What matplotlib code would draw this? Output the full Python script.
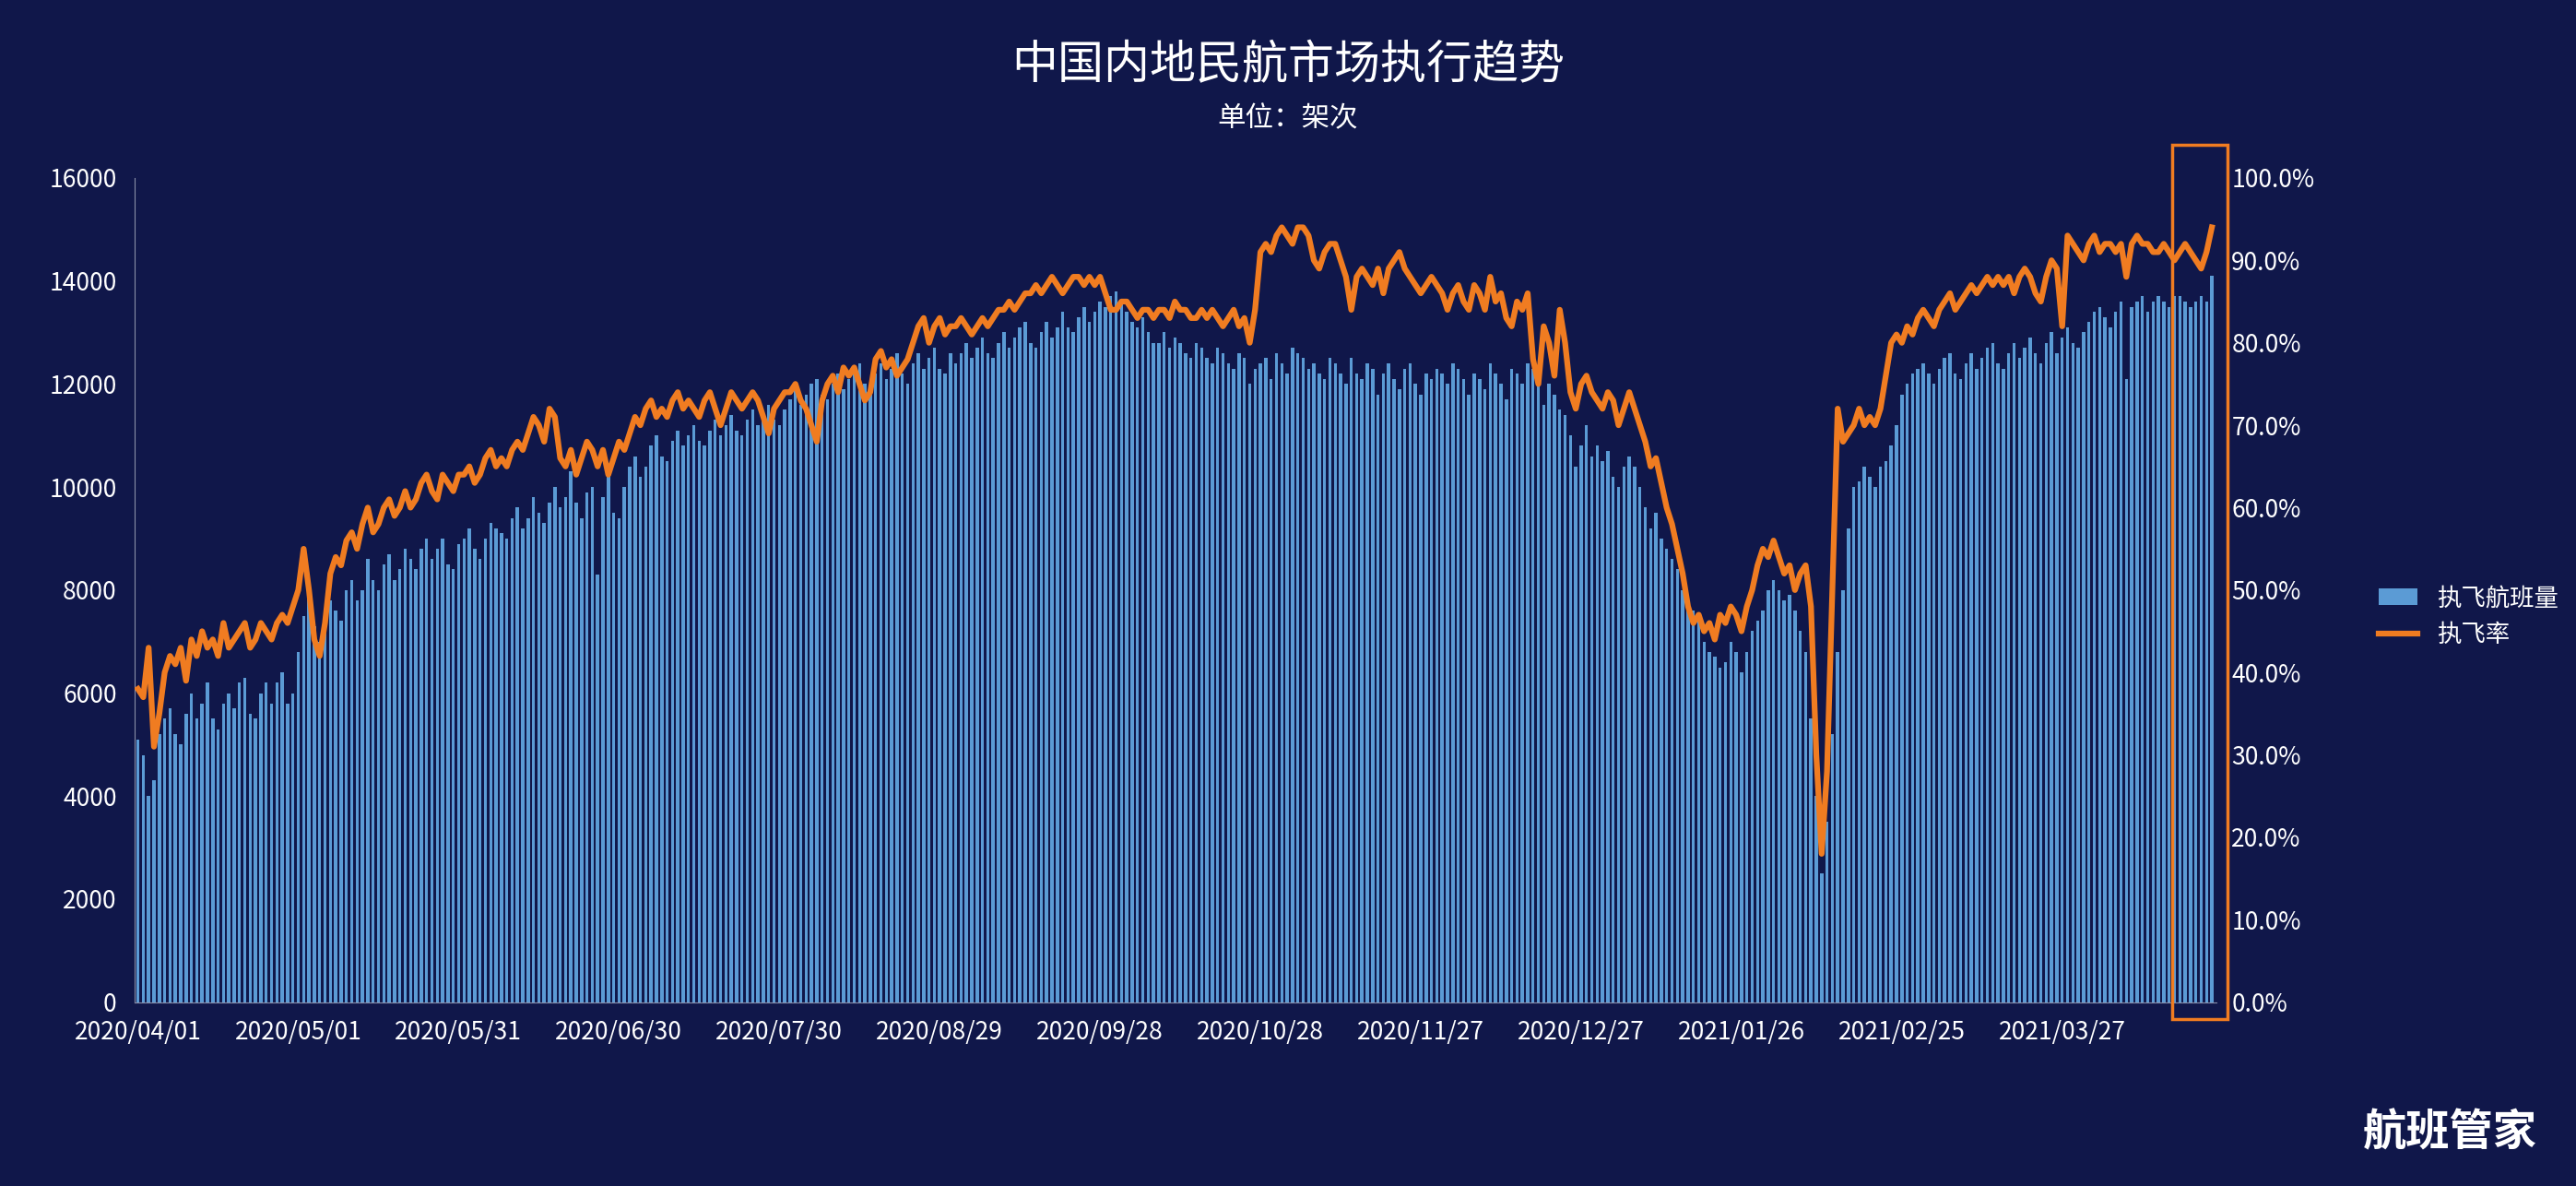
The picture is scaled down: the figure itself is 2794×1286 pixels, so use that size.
import numpy as np
import pandas as pd
import matplotlib.pyplot as plt
from matplotlib.patches import Rectangle

plt.rcParams['font.family'] = ['Noto Sans CJK SC', 'DejaVu Sans']

# daily executed flights (hundreds of flights), 2020/04/01 onward
flights_h = [
    # Apr
    51, 48, 40, 43, 52, 55, 57, 52, 50, 56, 60, 55, 58, 62, 55, 53, 58, 60, 57, 62, 63,
    56, 55, 60, 62, 58, 62, 64, 58, 60,
    # May
    68, 75, 80, 73, 70, 72, 78, 76, 74, 80, 82, 78, 80, 86, 82, 80, 85, 87, 82, 84, 88,
    86, 84, 88, 90, 86, 88, 90, 85, 84, 89,
    # Jun
    90, 92, 88, 86, 90, 93, 92, 91, 90, 94, 96, 92, 94, 98, 95, 93, 97, 100, 96, 98, 103,
    97, 94, 99, 100, 83, 98, 102, 95, 94,
    # Jul
    100, 104, 106, 102, 104, 108, 110, 106, 105, 109, 111, 108, 110, 112, 109, 108, 111,
    113, 110, 112, 114, 111, 110, 113, 115, 112, 114, 116, 113, 112, 115,
    # Aug
    117, 119, 116, 118, 120, 121, 118, 117, 120, 122, 119, 121, 122, 124, 120, 118, 122,
    124, 121, 123, 126, 122, 120, 124, 126, 123, 125, 127, 123, 122, 126,
    # Sep
    124, 126, 128, 125, 127, 129, 126, 125, 128, 130, 127, 129, 131, 132, 128, 127, 130,
    132, 129, 131, 134, 131, 130, 133, 135, 132, 134, 136, 135, 137,
    # Oct
    138, 136, 134, 132, 131, 133, 130, 128, 128, 130, 127, 129, 128, 126, 125, 128, 127,
    125, 124, 127, 126, 124, 123, 126, 125, 120, 123, 124, 125, 121, 126,
    # Nov
    124, 122, 127, 126, 125, 123, 124, 122, 121, 125, 124, 122, 120, 125, 122, 121, 124,
    123, 118, 122, 124, 121, 119, 123, 124, 120, 118, 122, 121, 123,
    # Dec
    122, 120, 124, 123, 121, 118, 122, 121, 119, 124, 122, 120, 117, 123, 122, 120, 124,
    123, 121, 116, 120, 118, 115, 114, 110, 104, 108, 112, 106, 108, 105,
    # Jan
    107, 102, 100, 104, 106, 104, 100, 96, 92, 95, 90, 88, 86, 84, 80, 78, 76, 74, 70,
    68, 67, 65, 66, 70, 68, 64, 68, 72, 74, 76, 80,
    # Feb
    82, 80, 78, 79, 76, 72, 68, 55, 40, 25, 35, 52, 68, 80, 92, 100, 101, 104, 102, 100,
    104, 105, 108, 112, 118, 120, 122, 123,
    # Mar
    124, 122, 120, 123, 125, 126, 122, 121, 124, 126, 123, 125, 127, 128, 124, 123, 126,
    128, 125, 127, 129, 126, 124, 128, 130, 126, 129, 131, 128, 127, 130,
    # Apr
    132, 134, 135, 133, 131, 134, 136, 121, 135, 136, 137, 134, 136, 137, 136, 135, 137,
    137, 136, 135, 136, 137, 136, 141,
]

# daily execution rate (%)
rate = [
    # Apr
    38, 37, 43, 31, 35, 40, 42, 41, 43, 39, 44, 42, 45, 43, 44, 42, 46, 43, 44, 45, 46,
    43, 44, 46, 45, 44, 46, 47, 46, 48,
    # May
    50, 55, 50, 44, 42, 46, 52, 54, 53, 56, 57, 55, 58, 60, 57, 58, 60, 61, 59, 60, 62,
    60, 61, 63, 64, 62, 61, 64, 63, 62, 64,
    # Jun
    64, 65, 63, 64, 66, 67, 65, 66, 65, 67, 68, 67, 69, 71, 70, 68, 72, 71, 66, 65, 67,
    64, 66, 68, 67, 65, 67, 64, 66, 68,
    # Jul
    67, 69, 71, 70, 72, 73, 71, 72, 71, 73, 74, 72, 73, 72, 71, 73, 74, 72, 70, 72, 74,
    73, 72, 73, 74, 73, 71, 69, 72, 73, 74,
    # Aug
    74, 75, 73, 72, 70, 68, 73, 75, 76, 74, 77, 76, 77, 75, 73, 74, 78, 79, 77, 78, 76,
    77, 78, 80, 82, 83, 80, 82, 83, 81, 82,
    # Sep
    82, 83, 82, 81, 82, 83, 82, 83, 84, 84, 85, 84, 85, 86, 86, 87, 86, 87, 88, 87, 86,
    87, 88, 88, 87, 88, 87, 88, 86, 84,
    # Oct
    84, 85, 85, 84, 83, 84, 84, 83, 84, 84, 83, 85, 84, 84, 83, 83, 84, 83, 84, 83, 82,
    83, 84, 82, 83, 80, 84, 91, 92, 91, 93,
    # Nov
    94, 93, 92, 94, 94, 93, 90, 89, 91, 92, 92, 90, 88, 84, 88, 89, 88, 87, 89, 86, 89,
    90, 91, 89, 88, 87, 86, 87, 88, 87,
    # Dec
    86, 84, 86, 87, 85, 84, 87, 86, 84, 88, 85, 86, 83, 82, 85, 84, 86, 78, 75, 82, 80,
    76, 84, 80, 74, 72, 75, 76, 74, 73, 72,
    # Jan
    74, 73, 70, 72, 74, 72, 70, 68, 65, 66, 63, 60, 58, 55, 52, 48, 46, 47, 45, 46, 44,
    47, 46, 48, 47, 45, 48, 50, 53, 55, 54,
    # Feb
    56, 54, 52, 53, 50, 52, 53, 48, 30, 18, 28, 50, 72, 68, 69, 70, 72, 70, 71, 70, 72,
    76, 80, 81, 80, 82, 81, 83,
    # Mar
    84, 83, 82, 84, 85, 86, 84, 85, 86, 87, 86, 87, 88, 87, 88, 87, 88, 86, 88, 89, 88,
    86, 85, 88, 90, 89, 82, 93, 92, 91, 90,
    # Apr
    92, 93, 91, 92, 92, 91, 92, 88, 92, 93, 92, 92, 91, 91, 92, 91, 90, 91, 92, 91, 90,
    89, 91, 94,
]

flights = np.array(flights_h) * 100
n = min(len(flights), len(rate))
flights = flights[:n]
rate = np.array(rate[:n])
dates = pd.date_range('2020-04-01', periods=n)
x = np.arange(n)

bg = '#10174a'
fig = plt.figure(figsize=(27.94, 12.86), dpi=100, facecolor=bg)
ax = fig.add_axes([0.0523, 0.155, 0.808, 0.695], facecolor='none')
ax.bar(x, flights, width=0.6, color='#5b9bd5', label='执飞航班量')
ax.set_xlim(-0.6, n - 0.2)
ax.set_ylim(0, 16000)
ax.set_yticks(range(0, 16001, 2000))
tick_idx = list(range(0, 361, 30))
ax.set_xticks(tick_idx)
ax.set_xticklabels([dates[i].strftime('%Y/%m/%d') for i in tick_idx])
ax.tick_params(colors='white', labelsize=19, length=0)
ax.tick_params(axis='x', pad=14)
ax.tick_params(axis='y', pad=14)
for s in ['top', 'right']:
    ax.spines[s].set_visible(False)
for s in ['left', 'bottom']:
    ax.spines[s].set_color('#8a8fa8')

ax2 = ax.twinx()
ax2.plot(x, rate, color='#f07c21', lw=4.5, label='执飞率')
ax2.set_ylim(0, 100)
ax2.set_yticks(range(0, 101, 10))
ax2.set_yticklabels([f'{v:.1f}%' for v in range(0, 101, 10)])
ax2.tick_params(colors='white', labelsize=19, length=0, pad=12)
for s in ax2.spines.values():
    s.set_visible(False)

# highlight box around the latest week
ax2.add_patch(Rectangle((n - 8.5, -2), 10.5, 106, fill=False, ec='#f07c21', lw=2.5,
                        clip_on=False))

h1, l1 = ax.get_legend_handles_labels()
h2, l2 = ax2.get_legend_handles_labels()
leg = fig.legend(h1 + h2, l1 + l2, loc='center left', bbox_to_anchor=(0.915, 0.48),
                 frameon=False, fontsize=19, labelcolor='white', handlelength=1.6)

fig.text(0.5, 0.945, '中国内地民航市场执行趋势', color='white', fontsize=36,
         ha='center', va='center')
fig.text(0.5, 0.9, '单位：架次', color='white', fontsize=22, ha='center', va='center')
fig.text(0.985, 0.045, '航班管家', color='white', fontsize=34, ha='right',
         va='center', fontweight='bold')

fig.savefig('out.png', dpi=100, facecolor=bg)
